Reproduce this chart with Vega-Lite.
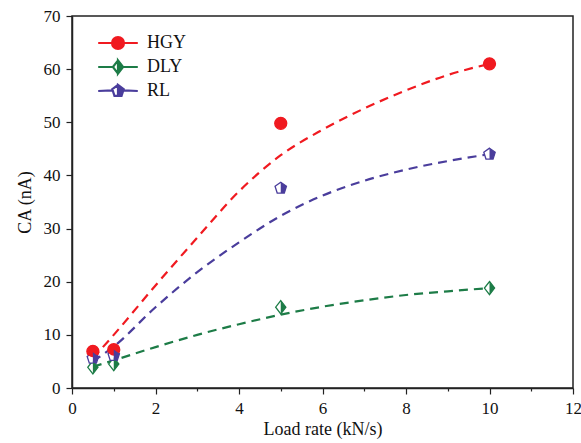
{
  "$schema": "https://vega.github.io/schema/vega-lite/v6.json",
  "width": 501,
  "height": 372,
  "padding": {"left": 16, "top": 7, "right": 0, "bottom": 4},
  "background": "white",
  "config": {
    "font": "Liberation Serif",
    "view": {"stroke": "#222222", "strokeWidth": 1.5},
    "axis": {
      "domainColor": "#222222",
      "domainWidth": 1.5,
      "tickColor": "#222222",
      "tickWidth": 1.2,
      "labelColor": "#111111",
      "titleColor": "#111111",
      "labelFontSize": 17,
      "titleFontSize": 18,
      "titleFontWeight": "normal",
      "grid": false
    }
  },
  "datasets": {
    "points": [
      {"series": "HGY", "x": 0.5, "y": 6.9},
      {"series": "HGY", "x": 1, "y": 7.2},
      {"series": "HGY", "x": 5, "y": 49.8},
      {"series": "HGY", "x": 10, "y": 61},
      {"series": "DLY", "x": 0.5, "y": 3.9},
      {"series": "DLY", "x": 1, "y": 4.5},
      {"series": "DLY", "x": 5, "y": 15.2},
      {"series": "DLY", "x": 10, "y": 18.8},
      {"series": "RL", "x": 0.5, "y": 5.6},
      {"series": "RL", "x": 1, "y": 6.1},
      {"series": "RL", "x": 5, "y": 37.6},
      {"series": "RL", "x": 10, "y": 44}
    ],
    "fit": [
      {"series": "HGY", "x": 0.5, "y": 5.6},
      {"series": "HGY", "x": 1, "y": 10},
      {"series": "HGY", "x": 2, "y": 19.3},
      {"series": "HGY", "x": 3, "y": 28.3},
      {"series": "HGY", "x": 4, "y": 37},
      {"series": "HGY", "x": 5, "y": 43.8},
      {"series": "HGY", "x": 6, "y": 48.6},
      {"series": "HGY", "x": 7, "y": 52.6},
      {"series": "HGY", "x": 8, "y": 56},
      {"series": "HGY", "x": 9, "y": 58.9},
      {"series": "HGY", "x": 10, "y": 61},
      {"series": "DLY", "x": 0.5, "y": 4},
      {"series": "DLY", "x": 1, "y": 5.2},
      {"series": "DLY", "x": 2, "y": 7.7},
      {"series": "DLY", "x": 3, "y": 10},
      {"series": "DLY", "x": 4, "y": 12},
      {"series": "DLY", "x": 5, "y": 13.8},
      {"series": "DLY", "x": 6, "y": 15.3},
      {"series": "DLY", "x": 7, "y": 16.5},
      {"series": "DLY", "x": 8, "y": 17.5},
      {"series": "DLY", "x": 9, "y": 18.2},
      {"series": "DLY", "x": 10, "y": 18.8},
      {"series": "RL", "x": 0.5, "y": 5},
      {"series": "RL", "x": 1, "y": 7.8},
      {"series": "RL", "x": 2, "y": 15.2},
      {"series": "RL", "x": 3, "y": 21.8},
      {"series": "RL", "x": 4, "y": 27.4},
      {"series": "RL", "x": 5, "y": 32.4},
      {"series": "RL", "x": 6, "y": 36.2},
      {"series": "RL", "x": 7, "y": 39},
      {"series": "RL", "x": 8, "y": 41.1},
      {"series": "RL", "x": 9, "y": 42.7},
      {"series": "RL", "x": 10, "y": 44}
    ]
  },
  "layer": [
    {
      "data": {"name": "fit"},
      "mark": {"type": "line", "strokeDash": [9, 6], "strokeWidth": 2.2, "interpolate": "monotone"},
      "encoding": {
        "x": {
          "field": "x", "type": "quantitative",
          "scale": {"domain": [0, 12], "nice": false, "zero": false},
          "axis": {
            "title": "Load rate (kN/s)",
            "values": [0, 1, 2, 3, 4, 5, 6, 7, 8, 9, 10, 11, 12],
            "labelExpr": "datum.value % 2 === 0 ? datum.label : ''",
            "tickSize": {"condition": {"test": "datum.value % 2 === 0", "value": 6}, "value": 3},
            "labelPadding": 6,
            "titlePadding": 4,
            "labelFlush": false
          }
        },
        "y": {
          "field": "y", "type": "quantitative",
          "scale": {"domain": [0, 70], "nice": false},
          "axis": {
            "title": "CA (nA)",
            "values": [0, 5, 10, 15, 20, 25, 30, 35, 40, 45, 50, 55, 60, 65, 70],
            "labelExpr": "datum.value % 10 === 0 ? datum.label : ''",
            "tickSize": {"condition": {"test": "datum.value % 10 === 0", "value": 6}, "value": 3},
            "labelPadding": 6,
            "titlePadding": 9,
            "labelFlush": false
          }
        },
        "color": {
          "field": "series", "type": "nominal",
          "scale": {"domain": ["HGY", "DLY", "RL"], "range": ["#f01a20", "#1d7c47", "#4a3d9c"]},
          "legend": {
            "title": null, "orient": "none", "legendX": 37, "legendY": 18,
            "symbolSize": 144, "labelFontSize": 18, "labelOffset": 20,
            "rowPadding": 2, "padding": 0, "labelColor": "#111111",
            "symbolStrokeWidth": 2.2, "symbolOpacity": 1,
            "encode": {
              "symbols": {
                "update": {
                  "shape": {"signal": "datum.value === 'HGY' ? 'M-3.3,0L-1,0M1,0L3.3,0M1,0A1,1,0,1,1,-1,0A1,1,0,1,1,1,0Z' : datum.value === 'DLY' ? 'M-3.3,0L-0.85,0M0.85,0L3.3,0M0,-1.1L-0.85,0L0,1.1L-0.85,0L0,-1.1M0,-1.1L0.85,0L0,1.1Z' : 'M-3.3,0L-0.95,-0.1M0.95,-0.1L3.3,0M0,-1L-0.95,-0.31L-0.59,0.81L0,0.81L-0.59,0.81L-0.95,-0.31L0,-1M0,-1L0.95,-0.31L0.59,0.81L0,0.81Z'"},
                  "fill": {"scale": "color", "field": "value"},
                  "stroke": {"scale": "color", "field": "value"},
                  "strokeWidth": {"value": 2.2},
                  "opacity": {"value": 1},
                  "strokeDash": {"value": []}
                }
              }
            }
          }
        },
        "detail": {"field": "series"}
      }
    },
    {
      "data": {"name": "points"},
      "mark": {"type": "point", "filled": true, "fill": "white", "strokeWidth": 1.3, "size": 144, "opacity": 1},
      "encoding": {
        "x": {"field": "x", "type": "quantitative"},
        "y": {"field": "y", "type": "quantitative"},
        "stroke": {
          "field": "series", "type": "nominal",
          "scale": {"domain": ["HGY", "DLY", "RL"], "range": ["#f01a20", "#1d7c47", "#4a3d9c"]},
          "legend": null
        },
        "shape": {
          "field": "series", "type": "nominal",
          "scale": {"domain": ["HGY", "DLY", "RL"], "range": ["circle", "M0,-1.1L0.85,0L0,1.1L-0.85,0Z", "M0,-1L0.95,-0.31L0.59,0.81L-0.59,0.81L-0.95,-0.31Z"]},
          "legend": null
        }
      }
    },
    {
      "data": {"name": "points"},
      "mark": {"type": "point", "filled": true, "size": 144, "opacity": 1},
      "encoding": {
        "x": {"field": "x", "type": "quantitative"},
        "y": {"field": "y", "type": "quantitative"},
        "color": {"field": "series", "type": "nominal"},
        "shape": {
          "field": "series", "type": "nominal",
          "scale": {"domain": ["HGY", "DLY", "RL"], "range": ["circle", "M0,-1.1L0.85,0L0,1.1Z", "M0,-1L0.95,-0.31L0.59,0.81L0,0.81Z"]},
          "legend": null
        }
      }
    }
  ],
  "resolve": {"scale": {"shape": "independent"}}
}
